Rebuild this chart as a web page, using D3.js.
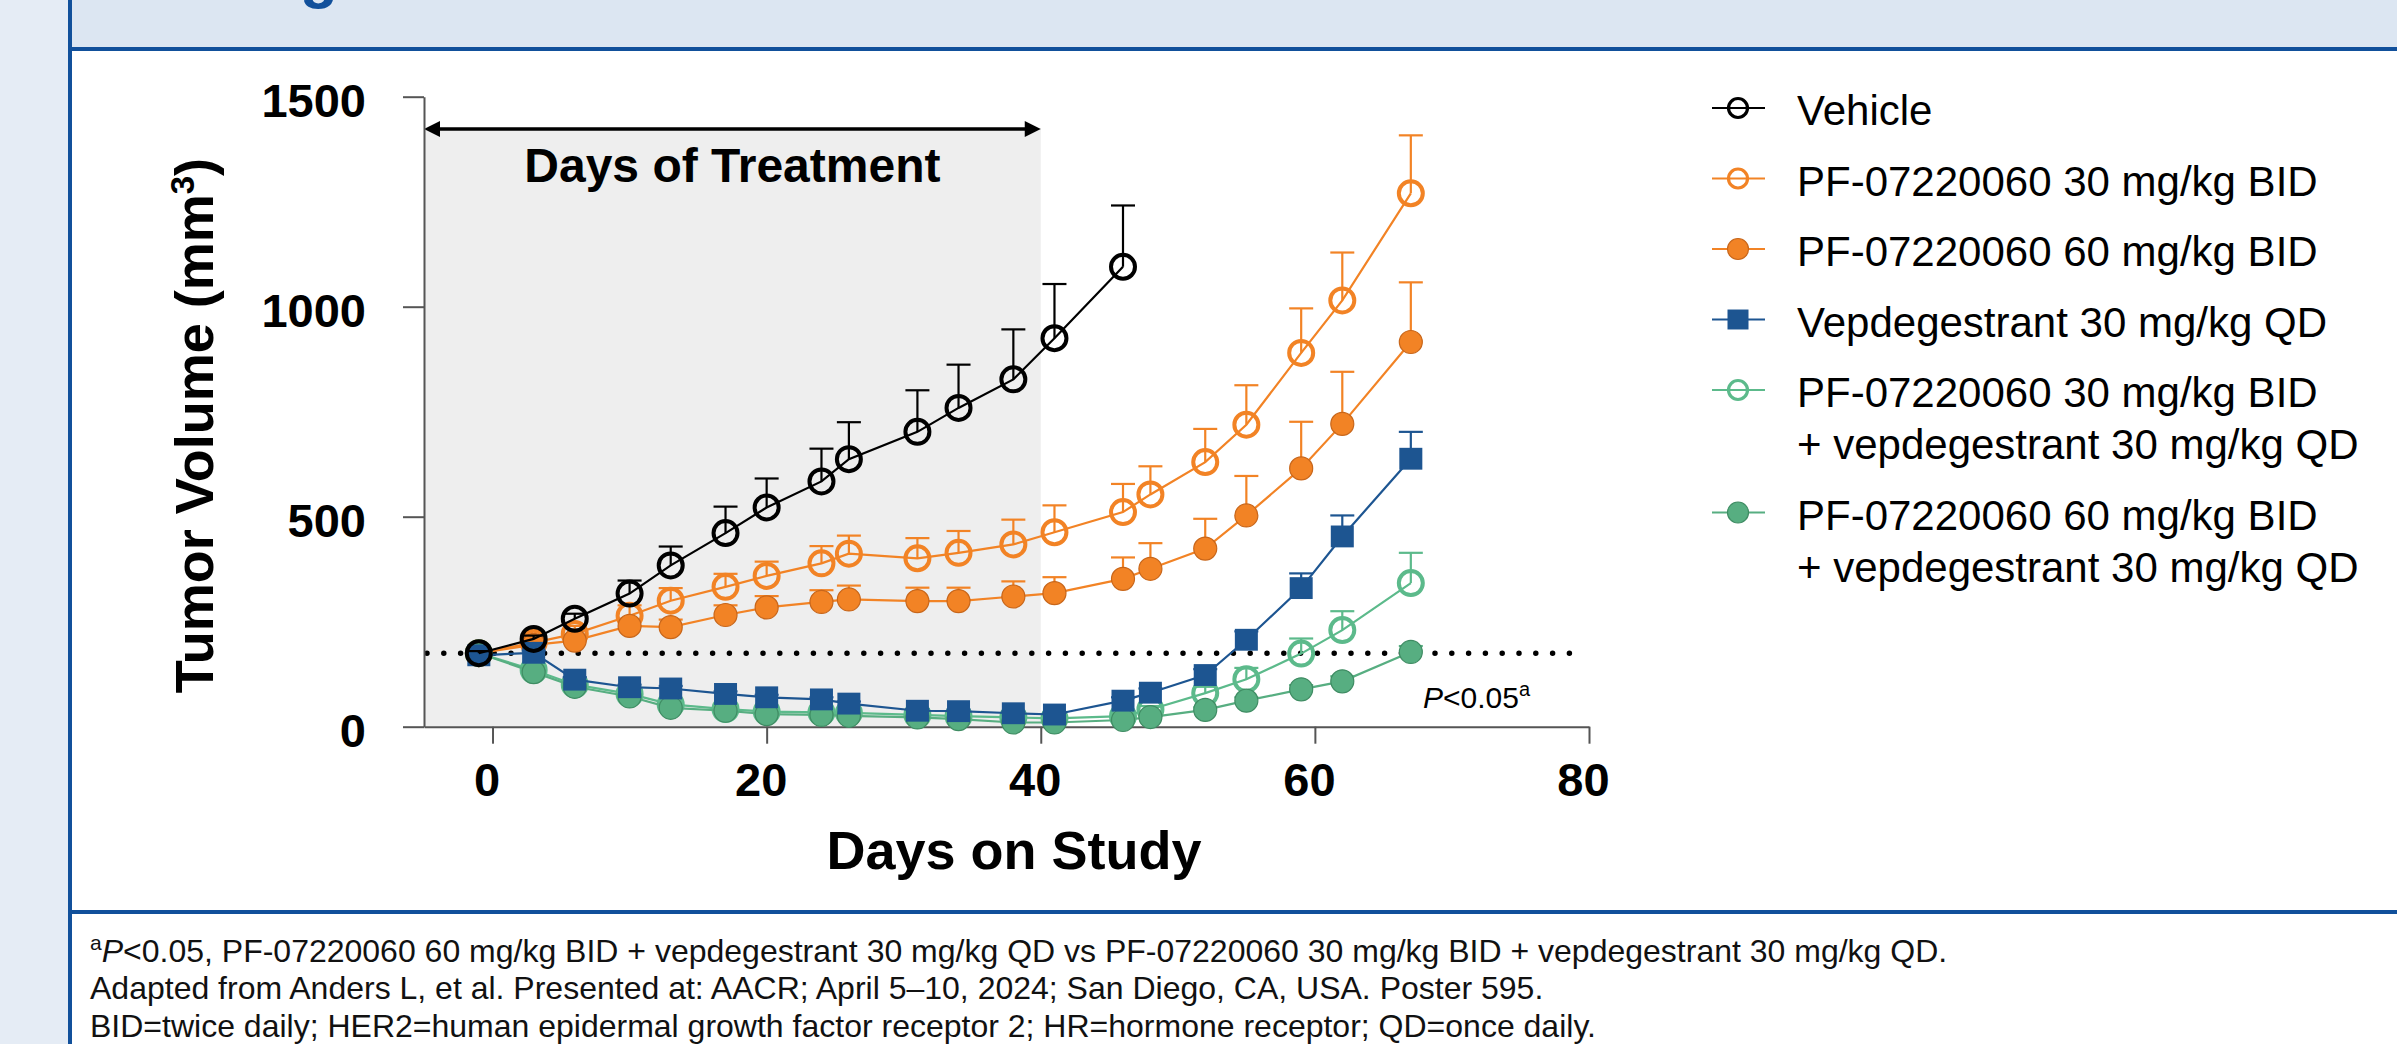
<!DOCTYPE html>
<html>
<head>
<meta charset="utf-8">
<script src="https://cdn.jsdelivr.net/npm/d3@7"></script>
<style>
  body { margin: 0; background: #fff; }
  svg text { font-family: "Liberation Sans", Arial, sans-serif; }
</style>
</head>
<body>
<div id="chart"></div>
<script>
// ---- data ----
var days = [-1, 3, 6, 10, 13, 17, 20, 24, 26, 31, 34, 38, 41, 46, 48, 52, 55, 59, 62, 67];

var vehicle    = [175, 209, 257, 317, 384, 461, 522, 584, 637, 702, 759, 827, 925, 1095];
var vehicleErr = [5, 8, 12, 31, 45, 63, 69, 78, 88, 99, 103, 119, 129, 146];

var pf30    = [175, 200, 221, 264, 300, 333, 359, 389, 412, 401, 414, 434, 463, 511, 553, 630, 719, 890, 1015, 1270];
var pf30Err = [4, 10, 19, 25, 30, 31, 34, 41, 43, 48, 52, 59, 64, 67, 67, 79, 94, 106, 114, 138];

var pf60    = [175, 195, 205, 240, 237, 266, 284, 297, 303, 299, 299, 310, 318, 352, 376, 424, 503, 615, 721, 916];
var pf60Err = [4, 8, 12, 15, 18, 23, 27, 28, 33, 32, 32, 36, 38, 51, 61, 71, 94, 111, 124, 142];

var vep    = [170, 176, 112, 94, 91, 78, 70, 65, 55, 38, 37, 32, 29, 62, 81, 123, 207, 330, 453, 638];
var vepErr = [3, 5, 6, 6, 6, 6, 6, 5, 5, 4, 4, 4, 4, 8, 10, 14, 20, 35, 50, 64];

var pf30Vep    = [175, 135, 100, 78, 53, 42, 36, 34, 33, 28, 25, 22, 20, 25, 41, 80, 113, 174, 230, 342];
var pf30VepErr = [3, 5, 6, 6, 5, 5, 4, 4, 4, 4, 4, 4, 4, 5, 8, 15, 27, 36, 45, 72];

var pf60Vep    = [175, 130, 95, 72, 45, 38, 30, 28, 26, 22, 18, 10, 10, 16, 23, 40, 62, 89, 108, 178];
var pf60VepErr = [3, 4, 5, 5, 4, 4, 4, 3, 3, 3, 3, 3, 3, 4, 5, 6, 8, 10, 12, 14];

var legendLabels = [
  ["Vehicle"],
  ["PF-07220060 30 mg/kg BID"],
  ["PF-07220060 60 mg/kg BID"],
  ["Vepdegestrant 30 mg/kg QD"],
  ["PF-07220060 30 mg/kg BID", "+ vepdegestrant 30 mg/kg QD"],
  ["PF-07220060 60 mg/kg BID", "+ vepdegestrant 30 mg/kg QD"]
];

var xTicks = [0, 20, 40, 60, 80];
var yTicks = [0, 500, 1000, 1500];
var baseline = 175;          // dotted reference line
var treatmentEnd = 40;       // shaded "Days of Treatment" window

var footnotes = [
  "Adapted from Anders L, et al. Presented at: AACR; April 5\u201310, 2024; San Diego, CA, USA. Poster 595.",
  "BID=twice daily; HER2=human epidermal growth factor receptor 2; HR=hormone receptor; QD=once daily."
];

// ---- styles ----
var colors  = ["#000000", "#f28325", "#f28325", "#1d5591", "#5cba8b", "#57ae81"];
var edges   = ["#000000", "#f28325", "#c8661a", "#1d5591", "#5cba8b", "#3f8c63"];
var markers = ["open", "open", "filled", "square", "open", "filled"];
var drawOrder = [1, 2, 4, 5, 3, 0];   // bottom to top

var series = [
  {vals: vehicle, err: vehicleErr},
  {vals: pf30, err: pf30Err},
  {vals: pf60, err: pf60Err},
  {vals: vep, err: vepErr},
  {vals: pf30Vep, err: pf30VepErr},
  {vals: pf60Vep, err: pf60VepErr}
].map(function(s, i) {
  return {
    i: i,
    color: colors[i], edge: edges[i], marker: markers[i],
    pts: s.vals.map(function(v, j) { return {d: days[j], v: v, e: s.err[j]}; })
  };
});

var w = 2397, h = 1044;
var svg = d3.select("#chart").append("svg").attr("width", w).attr("height", h);

// ---- page frame ----
var frameBlue = "#11509b";
svg.append("rect").attr("x", 0).attr("y", 0).attr("width", 70).attr("height", h).attr("fill", "#e5ecf5");
svg.append("rect").attr("x", 70).attr("y", 0).attr("width", w - 70).attr("height", 49).attr("fill", "#dce6f2");
svg.append("text").attr("x", 300).attr("y", -4).attr("font-size", 62).attr("font-weight", "bold")
  .attr("fill", frameBlue).text("g");
svg.append("rect").attr("x", 68).attr("y", 47).attr("width", w - 68).attr("height", 4).attr("fill", frameBlue);
svg.append("rect").attr("x", 68).attr("y", 910).attr("width", w - 68).attr("height", 4).attr("fill", frameBlue);
svg.append("rect").attr("x", 68).attr("y", 0).attr("width", 4).attr("height", h).attr("fill", frameBlue);

// ---- scales ----
var x = d3.scaleLinear().domain([-5, 80]).range([424, 1589]);
var y = d3.scaleLinear().domain([0, 1500]).range([726.7, 96.7]);

// treatment band + arrow
var bandTop = 1425;
svg.append("rect")
  .attr("x", x(-5)).attr("y", y(bandTop))
  .attr("width", x(treatmentEnd) - x(-5)).attr("height", y(0) - y(bandTop))
  .attr("fill", "#eeeeee");

var ay = y(1423);
svg.append("line").attr("x1", x(-5) + 6).attr("x2", x(treatmentEnd) - 6)
  .attr("y1", ay).attr("y2", ay).attr("stroke", "#000").attr("stroke-width", 3.5);
svg.append("path").attr("d", "M" + x(-5) + "," + ay + "l16,-8v16z").attr("fill", "#000");
svg.append("path").attr("d", "M" + x(treatmentEnd) + "," + ay + "l-16,-8v16z").attr("fill", "#000");
svg.append("text").attr("x", (x(-5) + x(treatmentEnd)) / 2).attr("y", 182)
  .attr("text-anchor", "middle").attr("font-size", 48).attr("font-weight", "bold")
  .text("Days of Treatment");

// dotted line
svg.append("line")
  .attr("x1", x(-5) + 3).attr("x2", x(79)).attr("y1", y(baseline)).attr("y2", y(baseline))
  .attr("stroke", "#000").attr("stroke-width", 5.5).attr("stroke-linecap", "round")
  .attr("stroke-dasharray", "0,16.8");

// ---- axes ----
var axisColor = "#555";
var yAxis = svg.append("g").attr("transform", "translate(" + x(-5) + ",0)")
  .call(d3.axisLeft(y).tickValues(yTicks).tickFormat(d3.format("d"))
    .tickSize(21).tickSizeOuter(0).tickPadding(37));
yAxis.selectAll("text").attr("dy", "0.42em");

var xAxis = svg.append("g").attr("transform", "translate(0," + y(0) + ")")
  .call(d3.axisBottom(x).tickValues(xTicks).tickFormat(d3.format("d"))
    .tickSize(17).tickSizeOuter(0).tickPadding(19));
xAxis.selectAll("text").attr("dx", -6);

[xAxis, yAxis].forEach(function(a) {
  a.select(".domain").attr("stroke", axisColor).attr("stroke-width", 2);
  a.selectAll(".tick line").attr("stroke", axisColor).attr("stroke-width", 2);
  a.selectAll(".tick text").attr("font-size", 47).attr("font-weight", "bold")
    .attr("fill", "#000").attr("font-family", "'Liberation Sans', Arial, sans-serif");
});

svg.append("text").attr("transform", "translate(213,425.6) rotate(-90)")
  .attr("text-anchor", "middle").attr("font-size", 54).attr("font-weight", "bold")
  .html('Tumor Volume (mm<tspan dy="-19" font-size="33">3</tspan><tspan dy="19">)</tspan>');

svg.append("text").attr("x", 1014).attr("y", 869).attr("text-anchor", "middle")
  .attr("font-size", 54).attr("font-weight", "bold").text("Days on Study");

// ---- series ----
var line = d3.line().x(function(p) { return x(p.d); }).y(function(p) { return y(p.v); });

function drawMarker(g, m, s, r) {
  if (m === "square") {
    g.append("rect").attr("x", -r).attr("y", -r * 0.95).attr("width", 2 * r).attr("height", 1.9 * r)
      .attr("fill", s.color);
  } else if (m === "open") {
    g.append("circle").attr("r", r).attr("fill", "none")
      .attr("stroke", s.color).attr("stroke-width", r > 11 ? 4 : 3.2);
  } else {
    g.append("circle").attr("r", r).attr("fill", s.color)
      .attr("stroke", s.edge).attr("stroke-width", 1.2);
  }
}

drawOrder.forEach(function(idx) {
  var s = series[idx];
  var g = svg.append("g");
  g.append("path").datum(s.pts).attr("d", line)
    .attr("fill", "none").attr("stroke", s.color).attr("stroke-width", 2.2);

  var eb = g.selectAll(".err").data(s.pts).enter().append("g");
  eb.append("line")
    .attr("x1", function(p) { return x(p.d); }).attr("x2", function(p) { return x(p.d); })
    .attr("y1", function(p) { return y(p.v); }).attr("y2", function(p) { return y(p.v + p.e); })
    .attr("stroke", s.color).attr("stroke-width", 2.2);
  eb.append("line")
    .attr("x1", function(p) { return x(p.d) - 12; }).attr("x2", function(p) { return x(p.d) + 12; })
    .attr("y1", function(p) { return y(p.v + p.e); }).attr("y2", function(p) { return y(p.v + p.e); })
    .attr("stroke", s.color).attr("stroke-width", 2.2);

  g.selectAll(".pt").data(s.pts).enter().append("g")
    .attr("transform", function(p) { return "translate(" + x(p.d) + "," + y(p.v) + ")"; })
    .each(function() {
      drawMarker(d3.select(this), s.marker, s, s.marker === "open" ? 12 : 11.5);
    });
});

// P value note
svg.append("text").attr("x", 1423).attr("y", 708).attr("font-size", 30)
  .html('<tspan font-style="italic">P</tspan>&lt;0.05<tspan dy="-12" font-size="20">a</tspan>');

// ---- legend ----
var ly = 110;
legendLabels.forEach(function(lines, i) {
  var s = series[i];
  var g = svg.append("g");
  g.append("line").attr("x1", 1712).attr("x2", 1765).attr("y1", ly - 2).attr("y2", ly - 2)
    .attr("stroke", s.color).attr("stroke-width", 2.2);
  var mg = g.append("g").attr("transform", "translate(1738," + (ly - 2) + ")");
  drawMarker(mg, s.marker, s, s.marker === "open" ? 9.5 : 10.5);
  lines.forEach(function(t, k) {
    g.append("text").attr("x", 1797).attr("y", ly + 15 + k * 52).attr("font-size", 42).text(t);
  });
  ly += 70.5 + 52 * (lines.length - 1);
});

// ---- footnotes ----
svg.append("text").attr("x", 90).attr("y", 962).attr("font-size", 32).attr("fill", "#111")
  .html('<tspan font-size="21" dy="-12">a</tspan><tspan dy="12" font-style="italic">P</tspan>' +
        '&lt;0.05, PF-07220060 60 mg/kg BID + vepdegestrant 30 mg/kg QD vs PF-07220060 30 mg/kg BID + vepdegestrant 30 mg/kg QD.');
footnotes.forEach(function(t, k) {
  svg.append("text").attr("x", 90).attr("y", 999 + k * 38).attr("font-size", 32).attr("fill", "#111").text(t);
});
</script>
</body>
</html>
